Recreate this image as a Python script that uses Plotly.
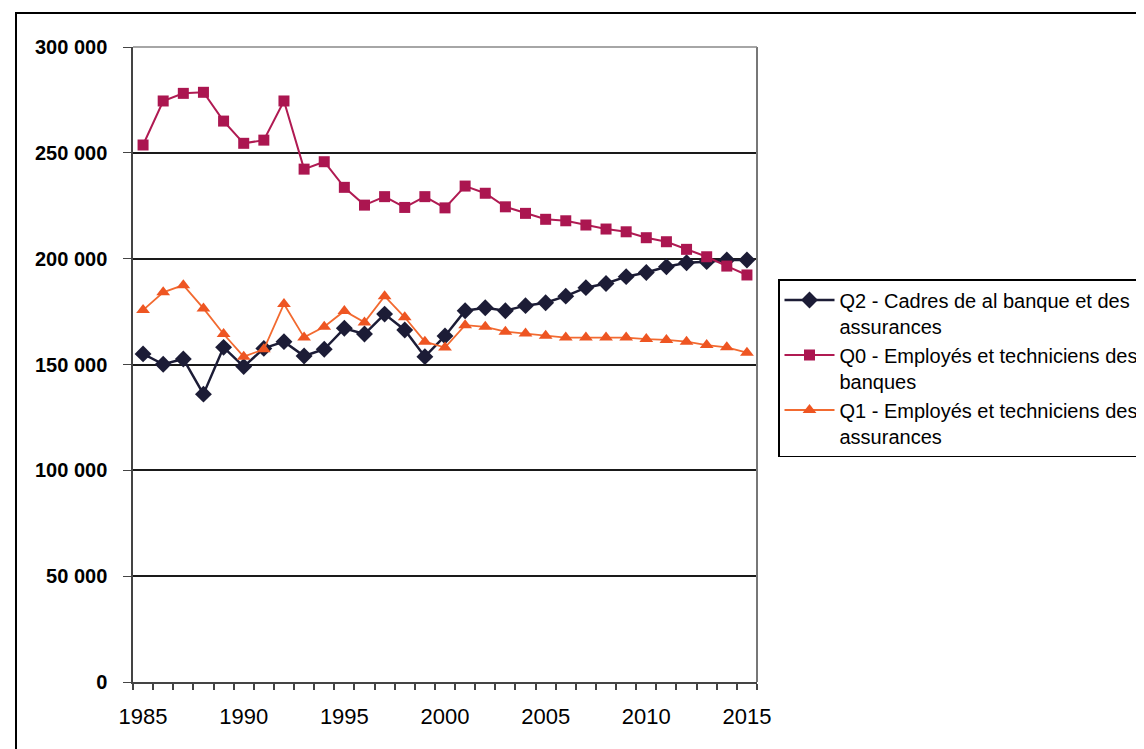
import plotly.graph_objects as go

years = list(range(1985, 2016))

q2_cadres = [155000, 150100, 152600, 136000, 158100, 149000, 157600, 160800, 154000, 157200,
             167100, 164400, 173800, 166300, 153700, 163500, 175400, 176800, 175400, 177800,
             179200, 182300, 186300, 188300, 191500, 193500, 196200, 198100, 198600, 199400, 199400]

q0_banques = [253700, 274500, 278100, 278600, 265000, 254500, 256000, 274500, 242300, 245800,
              233700, 225300, 229300, 224200, 229300, 224000, 234300, 230900, 224500, 221400,
              218600, 217900, 215900, 214000, 212700, 209900, 208000, 204400, 200900, 196500, 192300]

q1_assurances = [175700, 184100, 187500, 176500, 164400, 153700, 157200, 178600, 162800, 167800,
                 175300, 169900, 182300, 172300, 160800, 158000, 168600, 167800, 165500, 164600,
                 163600, 162700, 162700, 162700, 162700, 162000, 161600, 160800, 159200, 158100, 155600]

series_names = [
    "Q2 - Cadres de al banque et des<br>assurances",
    "Q0 - Employés et techniciens des<br>banques",
    "Q1 - Employés et techniciens des<br>assurances",
]

y_tickvals = [0, 50000, 100000, 150000, 200000, 250000, 300000]
y_ticktext = ["0", "50 000", "100 000", "150 000", "200 000", "250 000", "300 000"]
x_tickvals = [1985, 1990, 1995, 2000, 2005, 2010, 2015]
x_ticktext = ["1985", "1990", "1995", "2000", "2005", "2010", "2015"]

FONT = "Liberation Sans, Arial, sans-serif"

fig = go.Figure()
fig.add_trace(go.Scatter(x=years, y=q2_cadres, name=series_names[0], mode="lines+markers",
                         line=dict(color="#1c1c36", width=2.5),
                         marker=dict(symbol="diamond", size=13, color="#1c1c36")))
fig.add_trace(go.Scatter(x=years, y=q0_banques, name=series_names[1], mode="lines+markers",
                         line=dict(color="#b01a52", width=2),
                         marker=dict(symbol="square", size=11, color="#ab1650")))
fig.add_trace(go.Scatter(x=years, y=q1_assurances, name=series_names[2], mode="lines+markers",
                         line=dict(color="#f26a30", width=1.8),
                         marker=dict(symbol="triangle-up", size=12, color="#ee5522")))

# page offset of 8px (body margin) is compensated here
OFF = 8
W, H = 1144 - OFF, 749 - OFF
L, T = 133 - OFF, 47 - OFF
pw, ph = 757 - 133, 682 - 47
R, B = W - L - pw, H - T - ph

fig.update_layout(
    width=W, height=H,
    margin=dict(l=L, r=R, t=T, b=B, autoexpand=False),
    paper_bgcolor="white", plot_bgcolor="white",
    font=dict(family=FONT, color="black"),
    showlegend=True,
    legend=dict(
        x=(778 - 133) / pw, y=(682 - 279) / ph, xanchor="left", yanchor="top",
        bordercolor="black", borderwidth=1.5, bgcolor="white",
        font=dict(size=20, family=FONT, color="black"),
        tracegroupgap=0, itemwidth=50, valign="top",
    ),
    yaxis=dict(
        range=[0, 300000], tickvals=y_tickvals, ticktext=y_ticktext,
        ticks="outside", ticklen=8, tickcolor="#444444",
        showgrid=True, gridcolor="#1a1a1a", gridwidth=1.5,
        showline=True, linecolor="#444444", linewidth=1.5, zeroline=False,
        tickfont=dict(size=20, family=FONT, color="black", weight="bold"),
        ticklabelstandoff=12,
    ),
    shapes=[
        dict(type="rect", xref="paper", yref="paper",
             x0=(16 - 133) / pw, x1=(1170 - 133) / pw,
             y0=(682 - 780) / ph, y1=(682 - 13) / ph,
             line=dict(color="black", width=2), layer="below"),
        dict(type="line", xref="paper", yref="paper", x0=1, x1=1, y0=0, y1=1,
             line=dict(color="#777777", width=2)),
        dict(type="line", xref="paper", yref="paper", x0=0, x1=1, y0=1, y1=1,
             line=dict(color="#888888", width=1.5)),
    ],
)

fig.update_xaxes(
    range=[1984.5, 2015.5], tickmode="array", tickvals=x_tickvals, ticktext=x_ticktext,
    ticks="", showgrid=False,
    showline=True, linecolor="#444444", linewidth=1.5, zeroline=False,
    tickfont=dict(size=22, family=FONT, color="black"),
    ticklabelstandoff=14,
    minor=dict(tickvals=[y + 0.5 for y in range(1984, 2016)], ticks="outside",
               ticklen=6, tickcolor="#444444", tickwidth=1.5, showgrid=False),
)

fig.write_html("out.html")
